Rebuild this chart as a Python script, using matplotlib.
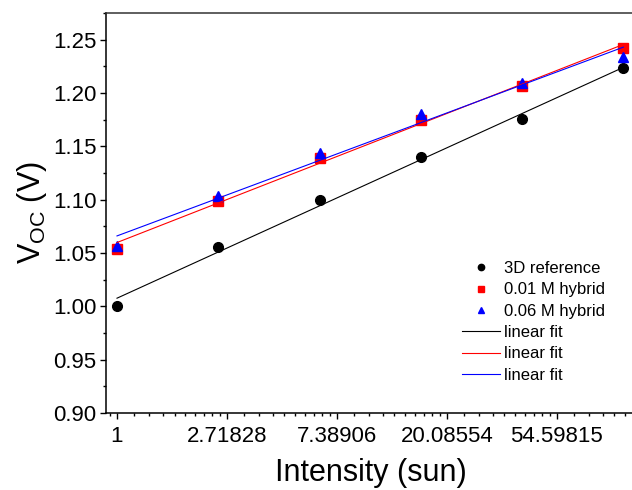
import numpy as np
import matplotlib
matplotlib.use('Agg')
import matplotlib.pyplot as plt
from matplotlib.ticker import FixedLocator, FixedFormatter, MultipleLocator

plt.rcParams['font.family'] = ['Liberation Sans', 'DejaVu Sans']
plt.rcParams['mathtext.fontset'] = 'custom'
plt.rcParams['mathtext.rm'] = 'Liberation Sans'
plt.rcParams['mathtext.it'] = 'Liberation Sans:italic'

# intensity (sun)
intensity = [1.0, 2.51, 6.31, 15.85, 39.81, 100.0]
# Voc (V)
voc_ref = [1.000, 1.056, 1.100, 1.140, 1.176, 1.223]
voc_001 = [1.054, 1.099, 1.139, 1.175, 1.207, 1.242]
voc_006 = [1.057, 1.103, 1.144, 1.180, 1.209, 1.234]

x_tick_vals = [1, np.e, np.e**2, np.e**3, np.e**4]
x_tick_labels = ['1', '2.71828', '7.38906', '20.08554', '54.59815']

fig = plt.figure(figsize=(6.32, 4.9), dpi=100)
ax = fig.add_axes([106/632, 77/490, 530/632, 400/490])

lnx = np.log(intensity)
series = [
    (voc_ref, 'black', 'o', 7, '3D reference'),
    (voc_001, 'red', 's', 6.5, '0.01 M hybrid'),
    (voc_006, 'blue', '^', 7.5, '0.06 M hybrid'),
]

marker_handles = []
line_handles = []
for v, c, m, ms, lab in series:
    h, = ax.plot(intensity, v, linestyle='none', marker=m, color=c, markersize=ms, label=lab)
    marker_handles.append(h)
for v, c, m, ms, lab in series:
    # linear fit of Voc vs ln(I)
    k, b = np.polyfit(lnx, v, 1)
    xf = np.array([intensity[0], intensity[-1]])
    lh, = ax.plot(xf, k * np.log(xf) + b, color=c, linewidth=0.8, label='linear fit')
    line_handles.append(lh)

ax.set_xscale('log', base=np.e)
ax.set_xlim(np.exp(-0.1), np.exp(4.72))
ax.set_ylim(0.90, 1.275)

ax.xaxis.set_major_locator(FixedLocator(x_tick_vals))
ax.xaxis.set_major_formatter(FixedFormatter(x_tick_labels))
minors = []
for kk in range(-1, 5):
    lo, hi = np.exp(kk), np.exp(kk + 1)
    for j in range(1, 10):
        minors.append(lo + (hi - lo) * j / 10)
ax.xaxis.set_minor_locator(FixedLocator(minors))
ax.xaxis.set_minor_formatter(FixedFormatter([]))

ax.yaxis.set_major_locator(MultipleLocator(0.05))
ax.yaxis.set_minor_locator(MultipleLocator(0.025))
ax.yaxis.set_major_formatter(matplotlib.ticker.FormatStrFormatter('%.2f'))

ax.tick_params(axis='both', which='major', direction='out', length=4.5, width=1, labelsize=16)
ax.tick_params(axis='both', which='minor', direction='out', length=2.5, width=1)
ax.tick_params(axis='y', which='major', pad=2.5)
ax.tick_params(axis='x', which='major', pad=5)
ax.tick_params(top=False, right=False, which='both')

for s in ax.spines.values():
    s.set_linewidth(1.1)
ax.spines['top'].set_color('#333333')

ax.set_xlabel('Intensity (sun)', fontsize=22, labelpad=8)
ax.set_ylabel(r'V$_{\mathrm{OC}}$ (V)', fontsize=22, labelpad=3)

ax.legend(handles=marker_handles + line_handles, loc='upper left',
          bbox_to_anchor=(462/632, (490-261)/490), bbox_transform=fig.transFigure,
          frameon=False, fontsize=12, borderpad=0, borderaxespad=0, markerscale=0.65,
          handlelength=2.25, handletextpad=0.25, labelspacing=0.38)

fig.savefig('out.png', dpi=100)
